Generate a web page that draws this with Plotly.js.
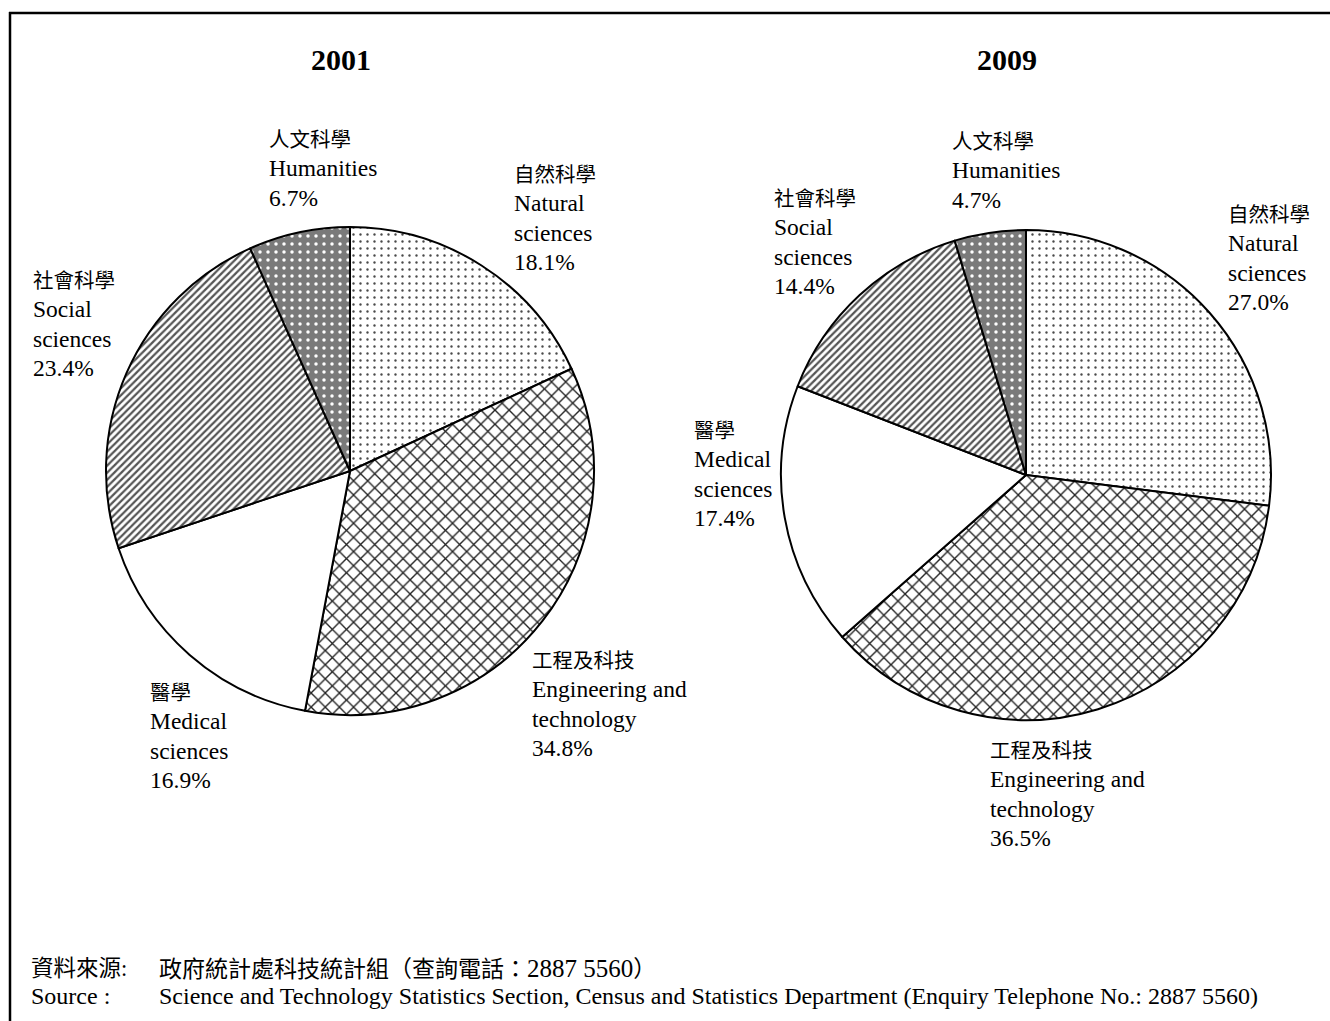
<!DOCTYPE html>
<html>
<head>
<meta charset="utf-8">
<script src="https://cdn.plot.ly/plotly-3.0.1.min.js"></script>
<style>
  html, body { margin: 0; padding: 0; background: #fff; }
  #chart { width: 1330px; height: 1021px; }
</style>
</head>
<body>
<div id="chart"></div>
<script>
// ---- data ----
const years = ['2001', '2009'];
const categoriesZh = ['自然科學', '工程及科技', '醫學', '社會科學', '人文科學'];
const categoriesEn = ['Natural<br>sciences', 'Engineering and<br>technology', 'Medical<br>sciences', 'Social<br>sciences', 'Humanities'];
const values2001 = [18.1, 34.8, 16.9, 23.4, 6.7];
const values2009 = [27.0, 36.5, 17.4, 14.4, 4.7];
const sourceZhLabel = '資料來源:';
const sourceZhText = '政府統計處科技統計組';
const sourceZhPhone = '（查詢電話：';
const sourcePhone = '2887 5560';
const sourceEnLabel = 'Source :';
const sourceEnText = 'Science and Technology Statistics Section, Census and Statistics Department (Enquiry Telephone No.: 2887 5560)';

// ---- layout helpers ----
const W = 1330, H = 1021;
const px = x => x / W;
const py = y => 1 - y / H;
const FONT = "'Liberation Serif', 'Times New Roman', 'Noto Sans CJK TC', serif";
const zh = (t, s) => '<span style="font-size:' + s + 'px">' + t + '</span>';
const en = (t, s) => '<span style="font-size:' + s + 'px">' + t + '</span>';

// slice styles (per category order)
const sliceColors = ['#ffffff', '#ffffff', '#ffffff', '#ffffff', '#7a7a7a'];
const patternShapes = ['.', 'x', '', '/', '.'];
const patternBg = ['#ffffff', '#ffffff', '#ffffff', '#ffffff', '#7a7a7a'];
const patternFg = ['#4a4a4a', '#222222', '#000000', '#555555', '#ffffff'];
const patternSize = [7, 10, 8, 5, 8];
const patternSolidity = [0.09, 0.25, 0.3, 0.45, 0.15];

function pieTrace(values, cx, cy, r) {
  return {
    type: 'pie',
    values: values,
    labels: categoriesEn,
    sort: false,
    direction: 'clockwise',
    rotation: 0,
    textinfo: 'none',
    hoverinfo: 'skip',
    showlegend: false,
    domain: { x: [px(cx - r), px(cx + r)], y: [py(cy + r), py(cy - r)] },
    marker: {
      colors: sliceColors,
      line: { color: '#000000', width: 2 },
      pattern: {
        shape: patternShapes,
        bgcolor: patternBg,
        fgcolor: patternFg,
        size: patternSize,
        solidity: patternSolidity,
        fillmode: 'replace'
      }
    }
  };
}

const traces = [
  pieTrace(values2001, 350, 471, 244),
  pieTrace(values2009, 1026, 475, 245)
];

// label anchor positions (left x, vertical centre of block) per year, in category order
const labelPos = [
  [[512, 219], [530, 705], [148, 737], [31, 325.5], [267, 170]],
  [[1226, 259.5], [988, 795.5], [692, 475.5], [772, 243], [950, 172]]
];
const seriesValues = [values2001, values2009];

const annotations = [];
seriesValues.forEach((vals, s) => {
  vals.forEach((v, i) => {
    annotations.push({
      xref: 'paper', yref: 'paper',
      x: px(labelPos[s][i][0]), y: py(labelPos[s][i][1]),
      xanchor: 'left', yanchor: 'middle', align: 'left',
      showarrow: false,
      text: zh(categoriesZh[i], 20.5) + '<br>' +
            categoriesEn[i].split('<br>').map(t => en(t, 23.5)).join('<br>') + '<br>' +
            en(v.toFixed(1) + '%', 23.5),
      font: { family: FONT, size: 22.5, color: '#000' }
    });
  });
});

// year titles
[[years[0], 341], [years[1], 1007]].forEach(([t, x]) => {
  annotations.push({
    xref: 'paper', yref: 'paper', x: px(x), y: py(60),
    xanchor: 'center', yanchor: 'middle', showarrow: false,
    text: '<b>' + t + '</b>',
    font: { family: FONT, size: 30, color: '#000' }
  });
});

// source lines
[
  [zh(sourceZhLabel, 22.5), 29, 968],
  [zh(sourceZhText + sourceZhPhone, 23) + en(sourcePhone, 25) + zh('）', 23), 157, 968],
  [en(sourceEnLabel, 24), 29, 996],
  [en(sourceEnText, 24), 157, 996]
].forEach(([t, x, y]) => {
  annotations.push({
    xref: 'paper', yref: 'paper', x: px(x), y: py(y),
    xanchor: 'left', yanchor: 'middle', showarrow: false,
    text: t,
    font: { family: FONT, size: 22, color: '#000' }
  });
});

const layout = {
  width: W, height: H,
  margin: { l: 0, r: 0, t: 0, b: 0, pad: 0 },
  paper_bgcolor: '#ffffff',
  plot_bgcolor: '#ffffff',
  showlegend: false,
  annotations: annotations,
  shapes: [
    { type: 'line', xref: 'paper', yref: 'paper', x0: px(9), x1: 1, y0: py(13), y1: py(13), line: { color: '#000', width: 2.5 } },
    { type: 'line', xref: 'paper', yref: 'paper', x0: px(10), x1: px(10), y0: py(12), y1: 0, line: { color: '#000', width: 2.5 } }
  ]
};

Plotly.newPlot('chart', traces, layout, { staticPlot: true, displayModeBar: false });
</script>
</body>
</html>
